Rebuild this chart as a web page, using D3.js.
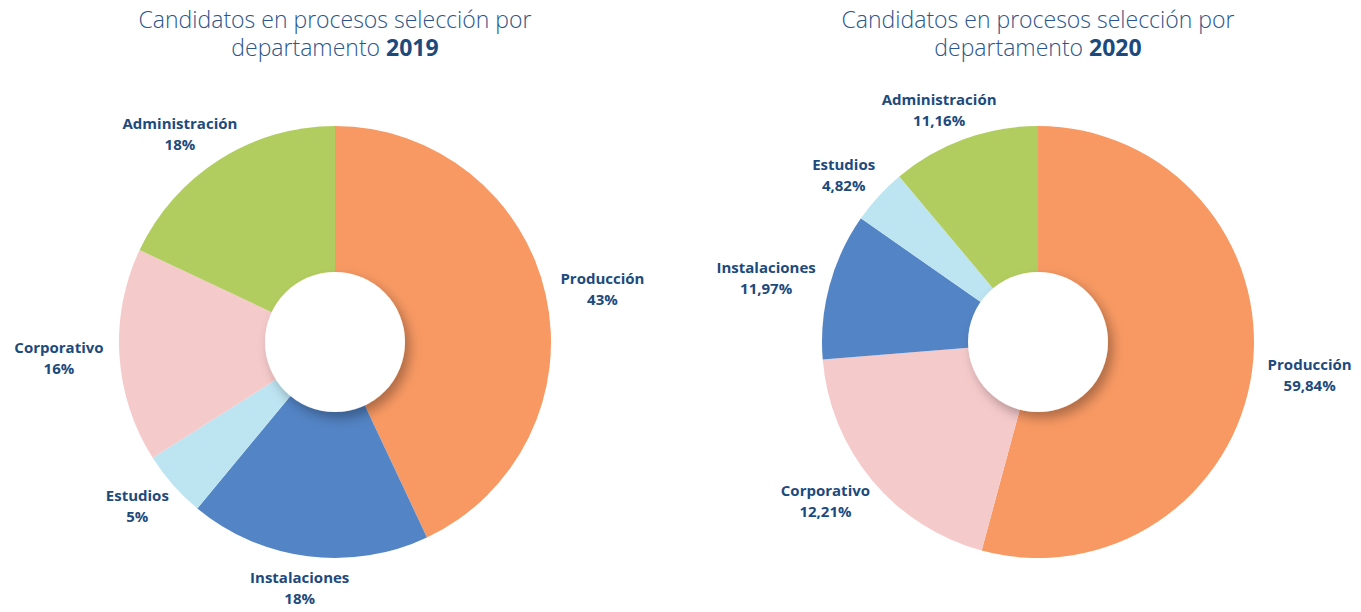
<!DOCTYPE html>
<html lang="es">
  <head>
    <meta charset="utf-8">
    <title>Candidatos por departamento</title>
    <script src="https://cdn.jsdelivr.net/npm/d3@7"></script>
    <style>
      html, body { margin: 0; padding: 0; background: #fff; }
      svg { display: block; }
      .title { font-family: "Open Sans", sans-serif; font-weight: 300; fill: #2b5689; font-size: 23px; }
      .title .year { font-weight: 700; fill: #1d4a7c; }
      .label { font-family: "Open Sans", sans-serif; font-weight: 700; fill: #1d4a7c; font-size: 15px; }
    </style>
  </head>
  <body>
    <svg width="1361" height="612"></svg>
    <script>
      const years = ['2019', '2020']
      const depts2019 = ['Producción', 'Instalaciones', 'Estudios', 'Corporativo', 'Administración']
      const values2019 = [43, 18, 5, 16, 18]
      const labels2019 = ['43%', '18%', '5%', '16%', '18%']
      const depts2020 = ['Producción', 'Corporativo', 'Instalaciones', 'Estudios', 'Administración']
      const values2020 = [54.2, 19.5, 11.0, 4.2, 11.1]
      const labels2020 = ['59,84%', '12,21%', '11,97%', '4,82%', '11,16%']

      const colors = d3.scaleOrdinal()
        .domain(['Producción', 'Instalaciones', 'Estudios', 'Corporativo', 'Administración'])
        .range(['#f89963', '#5384c5', '#bde4f1', '#f5cacb', '#b2cd5f'])

      const svg = d3.select('svg')
      const outerR = 216
      const innerR = 70
      const labelR = 232

      const defs = svg.append('defs')
      const filter = defs.append('filter')
        .attr('id', 'holeShadow')
        .attr('x', '-30%').attr('y', '-30%')
        .attr('width', '160%').attr('height', '160%')
      filter.append('feDropShadow')
        .attr('dx', 5).attr('dy', 6)
        .attr('stdDeviation', 6)
        .attr('flood-color', '#000')
        .attr('flood-opacity', 0.3)

      function drawDonut(cx, cy, year, depts, values, labels) {
        const g = svg.append('g').attr('transform', 'translate(' + cx + ',' + cy + ')')

        const title = svg.append('text')
          .attr('class', 'title')
          .attr('text-anchor', 'middle')
        title.append('tspan').attr('x', cx).attr('y', 28).text('Candidatos en procesos selección por')
        title.append('tspan').attr('x', cx).attr('y', 56).text('departamento ')
        title.append('tspan').attr('class', 'year').text(year)

        const rows = depts.map((d, i) => ({ dept: d, value: values[i], label: labels[i] }))
        const pie = d3.pie().sort(null).value(d => d.value)
        const arc = d3.arc().innerRadius(0).outerRadius(outerR)
        const arcs = pie(rows)

        g.selectAll('path.slice')
          .data(arcs)
          .join('path')
          .attr('class', 'slice')
          .attr('d', arc)
          .attr('fill', d => colors(d.data.dept))

        g.append('circle')
          .attr('r', innerR)
          .attr('fill', '#fff')
          .attr('filter', 'url(#holeShadow)')

        const lbl = g.selectAll('text.label')
          .data(arcs)
          .join('text')
          .attr('class', 'label')
          .attr('text-anchor', 'middle')
        lbl.append('tspan').attr('x', 0).attr('dy', '-0.2em').text(d => d.data.dept)
        lbl.append('tspan').attr('x', 0).attr('dy', '1.4em').text(d => d.data.label)

        lbl.each(function(d) {
          const a = (d.startAngle + d.endAngle) / 2
          const box = this.getBBox()
          const hw = box.width / 2
          const hh = box.height / 2
          const x = Math.sin(a) * (labelR + hw)
          const y = -Math.cos(a) * (labelR + hh * 0.75)
          // centra el bloque de dos lineas en (x, y)
          const oy = y - (box.y + hh)
          d3.select(this).attr('transform', 'translate(' + x + ',' + oy + ')')
        })
      }

      drawDonut(335, 342, years[0], depts2019, values2019, labels2019)
      drawDonut(1038, 342, years[1], depts2020, values2020, labels2020)
    </script>
  </body>
</html>
